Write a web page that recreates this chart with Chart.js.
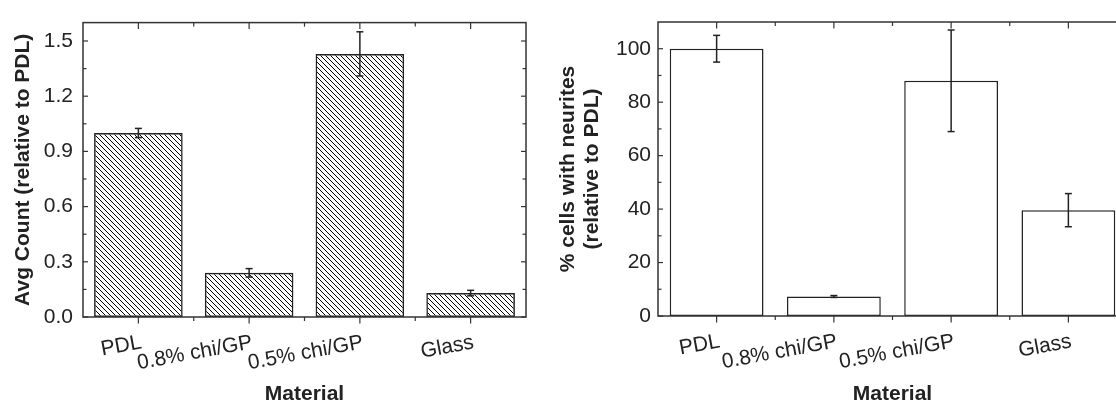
<!DOCTYPE html>
<html><head><meta charset="utf-8">
<script src="https://cdn.jsdelivr.net/npm/chart.js@4.4.1/dist/chart.umd.min.js"></script>
<style>
html,body{margin:0;padding:0;background:#fff;overflow:hidden;width:1116px;height:401px;}
#c1{position:absolute;left:0;top:0;}
#c2{position:absolute;left:540px;top:0;}
</style></head><body>
<canvas id="c1" width="540" height="407"></canvas>
<canvas id="c2" width="600" height="407"></canvas>
<script>
// ---- data ----
const categories = ['PDL', '0.8% chi/GP', '0.5% chi/GP', 'Glass'];
const countValues = [1.00, 0.24, 1.43, 0.13];
const countErrors = [0.025, 0.023, 0.12, 0.015];
const neuriteValues = [100, 7.3, 88, 39.6];
const neuriteErrors = [5, 0.35, 19, 6.2];
const countMajorTicks = [0, 0.3, 0.6, 0.9, 1.2, 1.5];
const countMinorTicks = [0.15, 0.45, 0.75, 1.05, 1.35];
const neuriteMajorTicks = [0, 20, 40, 60, 80, 100];
const neuriteMinorTicks = [10, 30, 50, 70, 90];

const INK = '#222';
const AXIS = '#333';
const FONT = "'Liberation Sans', Arial, Helvetica, sans-serif";

function makeHatch() {
  const s = 10, c = document.createElement('canvas');
  c.width = s; c.height = s;
  const g = c.getContext('2d');
  g.strokeStyle = '#000'; g.lineWidth = 1;
  for (const off of [-10, -5, 0, 5, 10]) {
    g.beginPath(); g.moveTo(-1, off - 1); g.lineTo(s + 1, s + off + 1); g.stroke();
  }
  return g.createPattern(c, 'repeat');
}

function decorPlugin(values, errors, major, minor, capHalf) {
  return {
    id: 'decor',
    afterDatasetsDraw(chart) {
      const {ctx, chartArea: a, scales: {x, y}} = chart;
      const line = (x1, y1, x2, y2) => { ctx.beginPath(); ctx.moveTo(x1, y1); ctx.lineTo(x2, y2); ctx.stroke(); };
      ctx.save();
      ctx.strokeStyle = INK; ctx.lineWidth = 1.5;
      values.forEach((v, i) => {
        const px = x.getPixelForValue(i);
        const t = y.getPixelForValue(v + errors[i]);
        const b = y.getPixelForValue(v - errors[i]);
        line(px, t, px, b);
        line(px - capHalf, t, px + capHalf, t);
        line(px - capHalf, b, px + capHalf, b);
      });
      ctx.strokeStyle = AXIS; ctx.lineWidth = 1.5;
      ctx.strokeRect(a.left, a.top, a.right - a.left, a.bottom - a.top);
      ctx.lineWidth = 1.2;
      major.forEach(v => { const p = y.getPixelForValue(v); line(a.left, p, a.left + 5, p); line(a.right, p, a.right - 5, p); });
      minor.forEach(v => { const p = y.getPixelForValue(v); line(a.left, p, a.left + 3.5, p); line(a.right, p, a.right - 3.5, p); });
      categories.forEach((c, i) => {
        const px = x.getPixelForValue(i);
        line(px, a.bottom, px, a.bottom + 6.5);
        line(px, a.top, px, a.top + 6.5);
        if (i < categories.length - 1) {
          const bx = (px + x.getPixelForValue(i + 1)) / 2;
          line(bx, a.bottom, bx, a.bottom + 4);
          line(bx, a.top, bx, a.top + 4);
        }
      });
      ctx.restore();
    }
  };
}

function makeChart(id, opts) {
  return new Chart(document.getElementById(id), {
    type: 'bar',
    data: {
      labels: categories,
      datasets: [{
        data: opts.values,
        backgroundColor: opts.fill,
        borderColor: INK,
        borderWidth: 1.5,
        borderSkipped: false,
        barPercentage: 0.8,
        categoryPercentage: 1.0
      }]
    },
    options: {
      responsive: false,
      animation: false,
      layout: {padding: {top: opts.top, right: opts.right, left: 0, bottom: 0}},
      plugins: {legend: {display: false}, tooltip: {enabled: false}},
      scales: {
        x: {
          grid: {display: false, drawTicks: false},
          border: {display: false},
          ticks: {
            color: INK, font: {family: FONT, size: 21},
            minRotation: 10.5, maxRotation: 10.5, autoSkip: false,
            padding: 13, labelOffset: 3
          },
          title: {display: true, text: 'Material', color: INK,
                  font: {family: FONT, size: 21, weight: 'bold'}, padding: {top: 0, bottom: 0}},
          afterFit(s) { s.height = opts.xHeight; }
        },
        y: {
          min: 0, max: opts.max,
          grid: {display: false, drawTicks: false},
          border: {display: false},
          afterBuildTicks(s) { s.ticks = opts.major.map(v => ({value: v})); },
          ticks: {
            color: INK, font: {family: FONT, size: 21}, padding: opts.yPad,
            callback: opts.fmt
          },
          title: {display: true, text: opts.yTitle, color: INK,
                  font: {family: FONT, size: 21, weight: 'bold', lineHeight: 1.15},
                  padding: {top: opts.titlePad, bottom: 0}},
          afterFit(s) { s.width = opts.yWidth; }
        }
      }
    },
    plugins: [decorPlugin(opts.values, opts.errors, opts.major, opts.minor, opts.cap)]
  });
}

makeChart('c1', {
  values: countValues, errors: countErrors, fill: makeHatch(),
  major: countMajorTicks, minor: countMinorTicks, max: 1.6,
  fmt: v => Number(v).toFixed(1),
  yTitle: 'Avg Count (relative to PDL)', titlePad: 11,
  yWidth: 83, xHeight: 90, top: 16, right: 14, yPad: 10, cap: 3.5
});

makeChart('c2', {
  values: neuriteValues, errors: neuriteErrors, fill: '#ffffff',
  major: neuriteMajorTicks, minor: neuriteMinorTicks, max: 110,
  fmt: v => String(v),
  yTitle: ['% cells with neurites', '(relative to PDL)'], titlePad: 16,
  yWidth: 118, xHeight: 91, top: 22, right: 13, yPad: 7, cap: 3.5
});
</script>
</body></html>
